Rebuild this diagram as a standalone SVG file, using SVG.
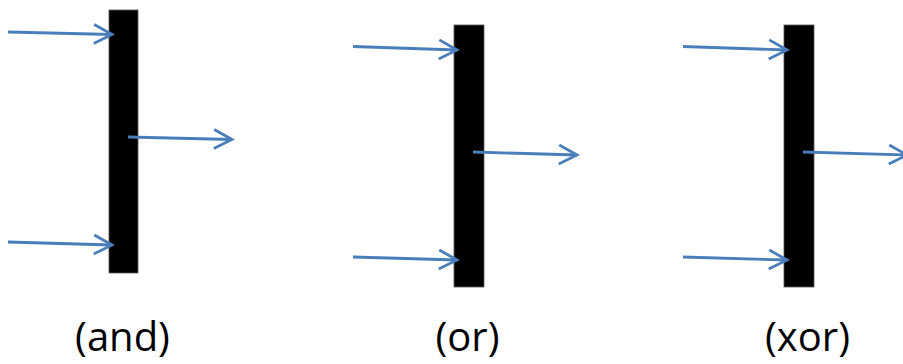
<svg xmlns="http://www.w3.org/2000/svg" width="903" height="364" viewBox="0 0 903 364">
<style>
.bar{fill:#000;stroke:#555;stroke-width:0.8}
.conn{fill:none;stroke:#4A7EBB;stroke-width:2.8;marker-end:url(#chev)}
.lbl{font-family:"Open Sans","Liberation Sans",sans-serif;font-size:40px;fill:#000;text-anchor:middle}
</style>
<defs>
<marker id="chev" markerUnits="userSpaceOnUse" markerWidth="24" markerHeight="24" viewBox="-20 -12 24 24" refX="0" refY="0" orient="auto">
<path d="M-18,-9.5 L0,0 L-18,9.5" fill="none" stroke="#4A7EBB" stroke-width="2.8"/>
</marker>
</defs>
<g id="and-node"><rect class="bar" x="109" y="10" width="29" height="263"/></g>
<g id="or-node"><rect class="bar" x="454" y="25" width="30" height="262"/></g>
<g id="xor-node"><rect class="bar" x="784" y="25" width="30" height="262"/></g>
<g id="connectors">
<line class="conn" x1="8" y1="32" x2="112" y2="34.5"/>
<line class="conn" x1="8" y1="242" x2="112" y2="245"/>
<line class="conn" x1="128" y1="137" x2="232" y2="139.5"/>
<line class="conn" x1="353" y1="46.5" x2="457" y2="50"/>
<line class="conn" x1="353" y1="257" x2="457" y2="260"/>
<line class="conn" x1="473" y1="152" x2="577" y2="155"/>
<line class="conn" x1="683" y1="46.5" x2="787" y2="50"/>
<line class="conn" x1="683" y1="257" x2="787" y2="260"/>
<line class="conn" x1="803" y1="152" x2="907" y2="155"/>
</g>
<g id="labels">
<text class="lbl" x="122.5" y="351">(and)</text>
<text class="lbl" x="467.5" y="351">(or)</text>
<text class="lbl" x="807.5" y="351">(xor)</text>
</g>
</svg>
